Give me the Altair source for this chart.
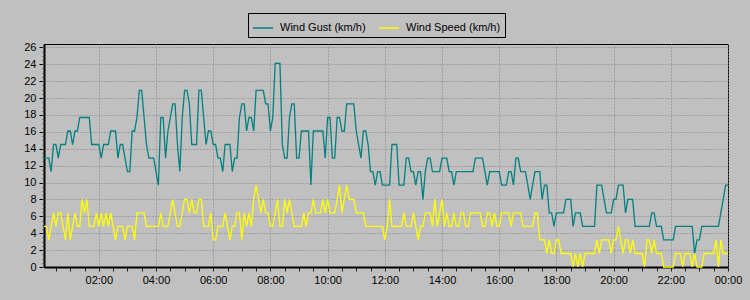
import altair as alt
import pandas as pd

series_names = ["Wind Gust (km/h)", "Wind Speed (km/h)"]
series_colors = ["#008080", "#ffff00"]

# 5-minute samples from 00:05 to 24:00 (one row = one hour)
wind_gust = [
    12.9, 12.9, 12.9, 11.3, 14.5, 14.5, 12.9, 14.5, 14.5, 14.5, 16.1, 16.1,
    14.5, 16.1, 16.1, 17.7, 17.7, 17.7, 17.7, 17.7, 14.5, 14.5, 14.5, 14.5,
    12.9, 14.5, 14.5, 14.5, 16.1, 16.1, 16.1, 12.9, 14.5, 14.5, 12.9, 11.3,
    11.3, 16.1, 16.1, 17.7, 20.9, 20.9, 17.7, 14.5, 12.9, 12.9, 12.9, 11.3,
    9.7, 17.7, 17.7, 12.9, 16.1, 17.7, 19.3, 19.3, 14.5, 11.3, 17.7, 20.9,
    20.9, 19.3, 14.5, 14.5, 14.5, 20.9, 20.9, 17.7, 14.5, 16.1, 16.1, 14.5,
    14.5, 12.9, 12.9, 11.3, 14.5, 14.5, 14.5, 11.3, 12.9, 12.9, 17.7, 19.3,
    19.3, 16.1, 17.7, 17.7, 16.1, 20.9, 20.9, 20.9, 20.9, 19.3, 19.3, 16.1,
    17.7, 24.1, 24.1, 24.1, 14.5, 12.9, 12.9, 17.7, 19.3, 19.3, 12.9, 12.9,
    16.1, 16.1, 16.1, 16.1, 9.7, 16.1, 16.1, 16.1, 16.1, 16.1, 12.9, 17.7,
    17.7, 12.9, 12.9, 17.7, 17.7, 16.1, 16.1, 19.3, 19.3, 19.3, 19.3, 16.1,
    14.5, 12.9, 16.1, 16.1, 14.5, 11.3, 11.3, 9.7, 11.3, 11.3, 9.7, 9.7,
    9.7, 9.7, 14.5, 14.5, 14.5, 9.7, 9.7, 9.7, 12.9, 12.9, 11.3, 11.3,
    9.7, 11.3, 11.3, 8.0, 11.3, 12.9, 12.9, 11.3, 11.3, 11.3, 11.3, 12.9,
    12.9, 12.9, 11.3, 11.3, 9.7, 11.3, 11.3, 11.3, 11.3, 11.3, 11.3, 11.3,
    11.3, 12.9, 12.9, 12.9, 12.9, 11.3, 9.7, 11.3, 11.3, 11.3, 11.3, 11.3,
    9.7, 9.7, 9.7, 11.3, 11.3, 9.7, 12.9, 12.9, 11.3, 11.3, 11.3, 9.7,
    8.0, 9.7, 11.3, 11.3, 11.3, 8.0, 9.7, 9.7, 6.4, 6.4, 4.8, 6.4,
    6.4, 6.4, 6.4, 8.0, 8.0, 8.0, 4.8, 6.4, 6.4, 6.4, 4.8, 4.8,
    4.8, 4.8, 4.8, 4.8, 9.7, 9.7, 9.7, 8.0, 6.4, 6.4, 6.4, 8.0,
    8.0, 9.7, 9.7, 9.7, 6.4, 8.0, 8.0, 8.0, 4.8, 4.8, 4.8, 4.8,
    4.8, 4.8, 4.8, 6.4, 6.4, 4.8, 4.8, 4.8, 3.2, 3.2, 3.2, 3.2,
    3.2, 4.8, 4.8, 4.8, 4.8, 4.8, 4.8, 4.8, 4.8, 1.6, 3.2, 3.2,
    4.8, 4.8, 4.8, 4.8, 4.8, 4.8, 4.8, 4.8, 6.4, 8.0, 9.7, 9.7,
]

wind_speed = [
    4.8, 4.8, 3.2, 4.8, 6.4, 4.8, 6.4, 6.4, 4.8, 3.2, 6.4, 3.2,
    4.8, 6.4, 4.8, 4.8, 8.0, 6.4, 8.0, 4.8, 4.8, 4.8, 6.4, 4.8,
    6.4, 4.8, 6.4, 4.8, 6.4, 4.8, 3.2, 4.8, 4.8, 4.8, 3.2, 4.8,
    4.8, 4.8, 3.2, 6.4, 6.4, 6.4, 6.4, 4.8, 4.8, 4.8, 4.8, 4.8,
    4.8, 6.4, 4.8, 4.8, 4.8, 6.4, 8.0, 6.4, 4.8, 4.8, 6.4, 8.0,
    8.0, 6.4, 8.0, 6.4, 6.4, 8.0, 8.0, 4.8, 4.8, 4.8, 6.4, 3.2,
    3.2, 4.8, 4.8, 4.8, 6.4, 4.8, 3.2, 4.8, 4.8, 6.4, 6.4, 3.2,
    6.4, 4.8, 6.4, 4.8, 8.0, 9.7, 8.0, 6.4, 8.0, 6.4, 6.4, 4.8,
    4.8, 6.4, 8.0, 4.8, 4.8, 8.0, 6.4, 8.0, 6.4, 4.8, 4.8, 4.8,
    4.8, 6.4, 4.8, 6.4, 6.4, 8.0, 6.4, 6.4, 6.4, 8.0, 6.4, 8.0,
    6.4, 6.4, 6.4, 8.0, 9.7, 6.4, 8.0, 9.7, 8.0, 8.0, 8.0, 6.4,
    6.4, 6.4, 6.4, 4.8, 4.8, 4.8, 4.8, 4.8, 4.8, 4.8, 4.8, 3.2,
    4.8, 8.0, 4.8, 4.8, 4.8, 4.8, 4.8, 6.4, 4.8, 4.8, 4.8, 6.4,
    4.8, 3.2, 4.8, 4.8, 6.4, 6.4, 6.4, 4.8, 8.0, 4.8, 6.4, 8.0,
    4.8, 6.4, 4.8, 4.8, 6.4, 4.8, 4.8, 6.4, 6.4, 4.8, 4.8, 6.4,
    6.4, 6.4, 6.4, 6.4, 4.8, 4.8, 6.4, 6.4, 4.8, 6.4, 4.8, 4.8,
    6.4, 6.4, 6.4, 6.4, 4.8, 6.4, 6.4, 6.4, 6.4, 4.8, 4.8, 4.8,
    4.8, 4.8, 6.4, 6.4, 3.2, 3.2, 3.2, 1.6, 3.2, 1.6, 1.6, 3.2,
    3.2, 1.6, 1.6, 1.6, 1.6, 1.6, 0.0, 1.6, 0.0, 1.6, 0.0, 1.6,
    1.6, 1.6, 1.6, 1.6, 3.2, 1.6, 3.2, 3.2, 3.2, 3.2, 1.6, 3.2,
    3.2, 4.8, 3.2, 1.6, 3.2, 3.2, 1.6, 3.2, 1.6, 1.6, 1.6, 1.6,
    0.0, 3.2, 3.2, 1.6, 3.2, 1.6, 1.6, 1.6, 0.0, 0.0, 0.0, 0.0,
    0.0, 1.6, 1.6, 1.6, 0.0, 1.6, 1.6, 1.6, 0.0, 1.6, 0.0, 0.0,
    0.0, 1.6, 1.6, 1.6, 1.6, 1.6, 3.2, 0.0, 3.2, 1.6, 1.6, 1.6,
]

y_major_ticks = list(range(0, 27, 2))
y_minor_ticks = [k / 2 for k in range(0, 53)]
x_label_hours = list(range(2, 25, 2))
x_tick_halfhours = list(range(1, 49))

times = (
    pd.date_range("2024-01-01 00:05", periods=len(wind_gust), freq="5min")
    .strftime("%Y-%m-%dT%H:%M:%SZ")
    .tolist()
)

df = pd.DataFrame(
    {
        "time": times + times,
        "value": wind_gust + wind_speed,
        "series": [series_names[0]] * len(wind_gust) + [series_names[1]] * len(wind_speed),
    }
)


def dt(total_minutes):
    d = 1 + total_minutes // 1440
    m = total_minutes % 1440
    return alt.DateTime(year=2024, month=1, date=d, hours=m // 60, minutes=m % 60, utc=True)


x_scale = alt.Scale(type="utc", domain=[dt(5), dt(1440)], nice=False)
y_scale = alt.Scale(domain=[0, 26.4], nice=False, zero=True)

font = "Liberation Sans"

main = alt.Chart(df).mark_line(strokeWidth=1.3).encode(
    x=alt.X(
        "time:T",
        scale=x_scale,
        title=None,
        axis=alt.Axis(
            values=[dt(h * 60) for h in x_label_hours],
            format="%H:%M",
            grid=True,
            gridColor="#808080",
            gridDash=[1, 2],
            gridWidth=1,
            ticks=False,
            labelPadding=7,
            labelFlush=False,
            labelFont=font,
            labelFontSize=11,
            labelColor="black",
            domainColor="black",
            domainWidth=2,
        ),
    ),
    y=alt.Y(
        "value:Q",
        scale=y_scale,
        title=None,
        axis=alt.Axis(
            values=y_major_ticks,
            grid=True,
            gridColor="#808080",
            gridDash=[1, 2],
            gridWidth=1,
            tickSize=5,
            tickColor="black",
            labelPadding=3,
            labelFont=font,
            labelFontSize=11,
            labelColor="black",
            domainColor="black",
            domainWidth=2,
        ),
    ),
    color=alt.Color(
        "series:N",
        scale=alt.Scale(domain=series_names, range=series_colors),
        legend=alt.Legend(
            title=None,
            orient="none",
            legendX=204,
            legendY=-31,
            direction="horizontal",
            fillColor="#c0c0c0",
            strokeColor="black",
            padding=4,
            symbolType="stroke",
            symbolSize=400,
            symbolStrokeWidth=1.5,
            labelFont=font,
            labelFontSize=11,
            labelColor="black",
            labelOffset=6,
            columnPadding=10,
        ),
    ),
)

minor = alt.Chart(df).mark_point(opacity=0).encode(
    x=alt.X(
        "time:T",
        scale=x_scale,
        title=None,
        axis=alt.Axis(
            orient="bottom",
            values=[dt(k * 30) for k in x_tick_halfhours],
            labels=False,
            grid=False,
            domain=False,
            tickSize=4,
            tickColor="#202020",
        ),
    ),
    y=alt.Y(
        "value:Q",
        scale=y_scale,
        title=None,
        axis=alt.Axis(
            orient="left",
            values=y_minor_ticks,
            labels=False,
            grid=False,
            domain=False,
            tickSize=2,
            tickColor="#404040",
        ),
    ),
)

shadow = alt.Chart(pd.DataFrame({"k": [0]})).mark_rect(color="black").encode(
    x=alt.value(207), x2=alt.value(460), y=alt.value(-28), y2=alt.value(-9)
)

chart = (
    alt.layer(shadow, main, minor)
    .resolve_axis(x="independent", y="independent")
    .properties(
        width=684,
        height=223,
        background="#c0c0c0",
        padding={"left": 44, "top": 44, "right": 22, "bottom": 33},
        autosize=alt.AutoSizeParams(type="none"),
    )
    .configure_view(stroke="black", strokeWidth=1, fill="#c0c0c0")
)

chart.save("out.html", embed_options={"renderer": "svg", "actions": False})
